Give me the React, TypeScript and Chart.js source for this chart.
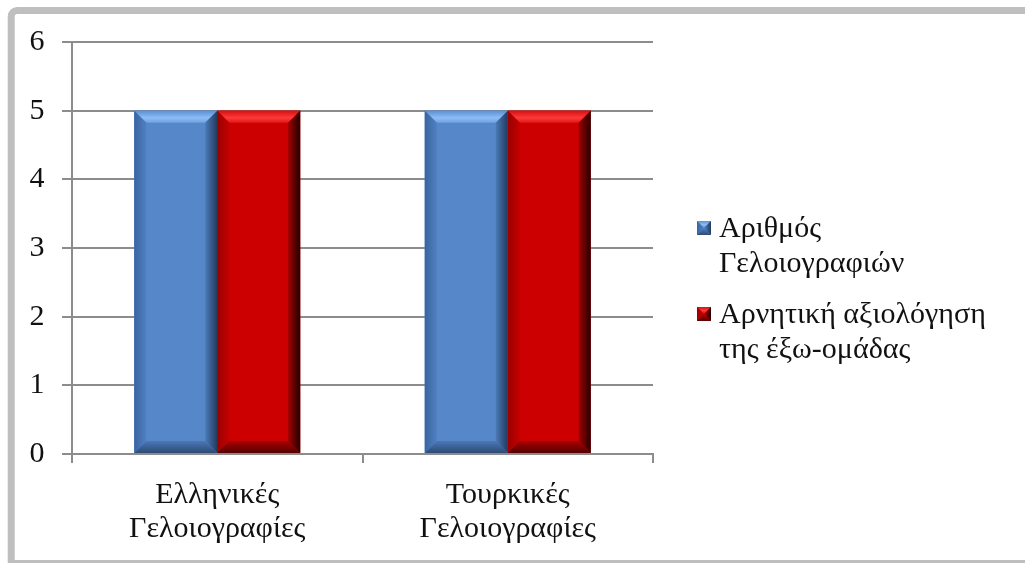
import React, { useEffect, useRef } from "react";
import { Chart, registerables } from "chart.js";

Chart.register(...registerables);

// ---- data ----
const categories: string[][] = [
  ["Ελληνικές", "Γελοιογραφίες"],
  ["Τουρκικές", "Γελοιογραφίες"],
];
const seriesNames: string[] = [
  "Αριθμός Γελοιογραφιών",
  "Αρνητική αξιολόγηση της έξω-ομάδας",
];
const legendLines: string[][] = [
  ["Αριθμός", "Γελοιογραφιών"],
  ["Αρνητική αξιολόγηση", "της έξω-ομάδας"],
];
const cartoonCount: number[] = [5, 5];
const negativeEvaluation: number[] = [5, 5];
const yMin = 0;
const yMax = 6;
const yStep = 1;

// ---- styles ----
const FONT = "'Liberation Serif', serif";
const FONT_SIZE = 30;
const TEXT = "#111111";
const GRID = "#8c8c8c";
const palettes = [
  {
    face: "#5687c9",
    top: ["#5b8fd2", "#8dbdf7", "#70a3e2"],
    left: ["#3a64a0", "#5080c2"],
    right: ["#4a7ab8", "#223a5e"],
    bottom: ["#4a78b5", "#2d4b75"],
  },
  {
    face: "#cc0000",
    top: ["#d41010", "#ff3a3a", "#e01818"],
    left: ["#9a0000", "#c40000"],
    right: ["#a00000", "#250000"],
    bottom: ["#a80000", "#560000"],
  },
];

function drawBevel(ctx: CanvasRenderingContext2D, l: number, t: number, r: number, b: number, p: any, bv: number) {
  ctx.save();
  ctx.fillStyle = p.face;
  ctx.fillRect(l, t, r - l, b - t);
  let g = ctx.createLinearGradient(0, t, 0, t + bv);
  g.addColorStop(0, p.top[0]);
  g.addColorStop(0.6, p.top[1]);
  g.addColorStop(1, p.top[2]);
  ctx.fillStyle = g;
  ctx.beginPath();
  ctx.moveTo(l, t); ctx.lineTo(r, t); ctx.lineTo(r - bv, t + bv); ctx.lineTo(l + bv, t + bv); ctx.closePath();
  ctx.fill();
  g = ctx.createLinearGradient(l, 0, l + bv, 0);
  g.addColorStop(0, p.left[0]);
  g.addColorStop(1, p.left[1]);
  ctx.fillStyle = g;
  ctx.beginPath();
  ctx.moveTo(l, t); ctx.lineTo(l + bv, t + bv); ctx.lineTo(l + bv, b - bv); ctx.lineTo(l, b); ctx.closePath();
  ctx.fill();
  g = ctx.createLinearGradient(r - bv, 0, r, 0);
  g.addColorStop(0, p.right[0]);
  g.addColorStop(1, p.right[1]);
  ctx.fillStyle = g;
  ctx.beginPath();
  ctx.moveTo(r, t); ctx.lineTo(r - bv, t + bv); ctx.lineTo(r - bv, b - bv); ctx.lineTo(r, b); ctx.closePath();
  ctx.fill();
  g = ctx.createLinearGradient(0, b - bv, 0, b);
  g.addColorStop(0, p.bottom[0]);
  g.addColorStop(1, p.bottom[1]);
  ctx.fillStyle = g;
  ctx.beginPath();
  ctx.moveTo(l, b); ctx.lineTo(l + bv, b - bv); ctx.lineTo(r - bv, b - bv); ctx.lineTo(r, b); ctx.closePath();
  ctx.fill();
  ctx.restore();
}

const framePlugin = {
  id: "frame",
  beforeDraw(chart: any) {
    const ctx = chart.ctx as CanvasRenderingContext2D;
    ctx.save();
    ctx.fillStyle = "#ffffff";
    ctx.fillRect(0, 0, chart.width, chart.height);
    ctx.strokeStyle = "#bfbfbf";
    ctx.lineWidth = 7;
    ctx.beginPath();
    ctx.moveTo(1100, 10.5);
    ctx.lineTo(17.2, 10.5);
    ctx.arcTo(11.2, 10.5, 11.2, 16.5, 6);
    ctx.lineTo(11.2, 563.5);
    ctx.lineTo(1100, 563.5);
    ctx.stroke();
    ctx.restore();
  },
};

const bevelPlugin = {
  id: "bevel",
  afterDatasetsDraw(chart: any) {
    const ctx = chart.ctx as CanvasRenderingContext2D;
    chart.data.datasets.forEach((_ds: any, di: number) => {
      const meta = chart.getDatasetMeta(di);
      meta.data.forEach((el: any) => {
        const { x, y, base, width } = el.getProps(["x", "y", "base", "width"], true);
        drawBevel(ctx, x - width / 2, Math.min(y, base), x + width / 2, Math.max(y, base), palettes[di], 12);
      });
    });
  },
};

const legendPlugin = {
  id: "customLegend",
  afterDraw(chart: any) {
    const ctx = chart.ctx as CanvasRenderingContext2D;
    const startBaseline = [237, 323];
    legendLines.forEach((_lines, i) => {
      const by = startBaseline[i];
      drawBevel(ctx, 697, by - 16, 711, by - 2, palettes[i], 6);
    });
    ctx.save();
    ctx.font = `${FONT_SIZE}px ${FONT}`;
    ctx.fillStyle = TEXT;
    ctx.textBaseline = "alphabetic";
    ctx.textAlign = "left";
    legendLines.forEach((lines, i) => {
      const by = startBaseline[i];
      lines.forEach((line, j) => {
        ctx.fillText(line, 719, by + j * 34.5);
      });
    });
    ctx.restore();
  },
};

export default function App() {
  const canvasRef = useRef<HTMLCanvasElement | null>(null);

  useEffect(() => {
    const canvas = canvasRef.current;
    if (!canvas) return;
    const chart: any = new Chart(canvas, {
      type: "bar",
      data: {
        labels: categories,
        datasets: [
          {
            label: seriesNames[0],
            data: cartoonCount,
            backgroundColor: palettes[0].face,
            borderWidth: 0,
            barPercentage: 1,
            categoryPercentage: 0.571,
          },
          {
            label: seriesNames[1],
            data: negativeEvaluation,
            backgroundColor: palettes[1].face,
            borderWidth: 0,
            barPercentage: 1,
            categoryPercentage: 0.571,
          },
        ],
      },
      options: {
        responsive: false,
        animation: false,
        layout: { padding: { left: 0, top: 42, right: 372, bottom: 0 } },
        plugins: {
          legend: { display: false },
          tooltip: { enabled: false },
        },
        scales: {
          x: {
            afterFit: (s: any) => { s.height = 109; },
            grid: {
              display: true,
              drawOnChartArea: false,
              drawTicks: true,
              tickLength: 9,
              color: GRID,
              lineWidth: 2,
              offset: true,
            },
            border: { display: true, color: GRID, width: 2 },
            ticks: {
              color: TEXT,
              font: { family: FONT, size: FONT_SIZE, lineHeight: 1.15 },
              padding: 14.5,
              maxRotation: 0,
              autoSkip: false,
            },
          },
          y: {
            min: yMin,
            max: yMax,
            afterFit: (s: any) => { s.width = 72; },
            grid: {
              display: true,
              drawTicks: true,
              tickLength: 10,
              color: GRID,
              lineWidth: 2,
            },
            border: { display: true, color: GRID, width: 2 },
            ticks: {
              stepSize: yStep,
              color: TEXT,
              font: { family: FONT, size: FONT_SIZE },
              padding: 17.5,
            },
          },
        },
      },
      plugins: [framePlugin, bevelPlugin, legendPlugin],
    });
    const t = window.setTimeout(() => chart.update("none"), 200);
    return () => {
      clearTimeout(t);
      chart.destroy();
    };
  }, []);

  return (
    <div style={{ position: "absolute", left: 0, top: 0, width: 1025, height: 563 }}>
      <canvas ref={canvasRef} width={1025} height={563} />
    </div>
  );
}
